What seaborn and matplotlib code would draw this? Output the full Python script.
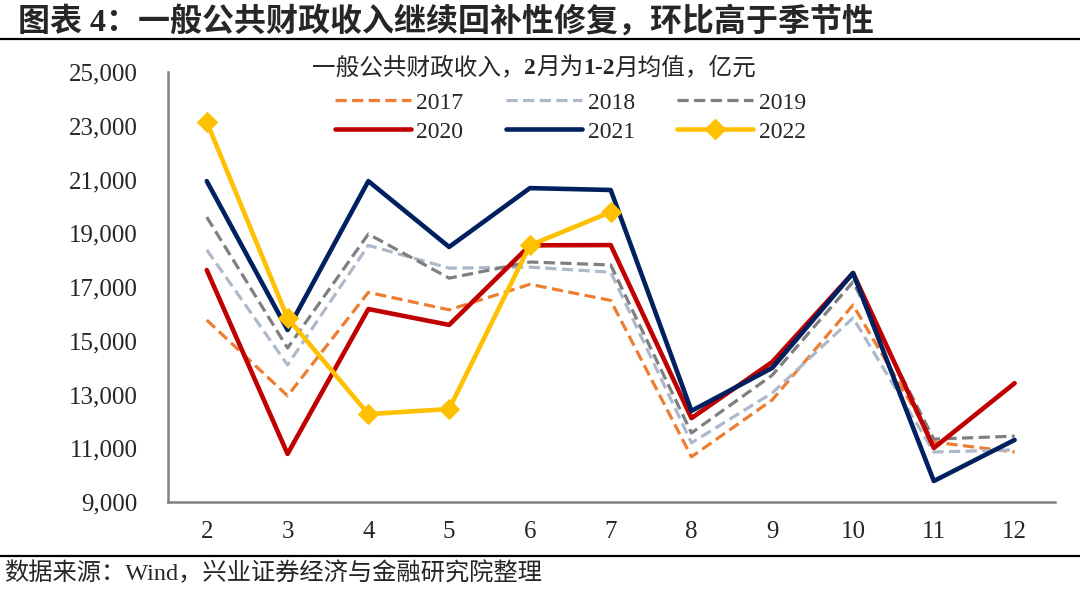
import matplotlib
matplotlib.use('Agg')
import matplotlib.pyplot as plt
import seaborn as sns
import pandas as pd
from matplotlib.lines import Line2D

# 数据（亿元，2月为1-2月均值）
months = ['2', '3', '4', '5', '6', '7', '8', '9', '10', '11', '12']
v2017 = [15770, 12950, 16800, 16150, 17100, 16500, 10680, 12800, 16330, 11230, 10860]
v2018 = [18380, 14100, 18550, 17700, 17740, 17550, 11200, 13060, 15850, 10860, 10940]
v2019 = [19600, 14730, 18970, 17330, 17930, 17820, 11570, 13720, 17190, 11340, 11450]
v2020 = [17630, 10790, 16180, 15590, 18550, 18560, 12120, 14210, 17520, 11010, 13420]
v2021 = [20940, 15400, 20940, 18490, 20680, 20610, 12390, 13990, 17520, 9780, 11310]
v2022 = [23140, 15850, 12270, 12460, 18550, 19790]
years = ['2017', '2018', '2019', '2020', '2021', '2022']
series = [v2017, v2018, v2019, v2020, v2021, v2022]

colors = {'2017': '#ED7D31', '2018': '#ADB9CA', '2019': '#7F7F7F',
          '2020': '#C00000', '2021': '#002060', '2022': '#FFC000'}

rows = []
for y, vals in zip(years, series):
    for i, v in enumerate(vals):
        rows.append({'idx': i, 'value': v, 'year': y})
df = pd.DataFrame(rows)

sns.set_style('white')
plt.rcParams['font.family'] = ['Liberation Serif', 'Noto Sans CJK SC']
plt.rcParams['axes.unicode_minus'] = False

fig = plt.figure(figsize=(10.8, 5.9), dpi=100)
ax = fig.add_axes([168 / 1080, 1 - 502 / 590, (1055 - 168) / 1080, (502 - 72) / 590])

DASH = (0, (3.5, 1.7))

def style(y):
    dashed = y in ('2017', '2018', '2019')
    return dict(color=colors[y], lw=2.3 if dashed else 3.3,
                linestyle=DASH if dashed else '-',
                marker='D' if y == '2022' else None, markersize=10,
                markeredgecolor=colors[y], dash_capstyle='butt',
                solid_capstyle='round')

for y in years:
    d = df[df['year'] == y]
    sns.lineplot(data=d, x='idx', y='value', ax=ax, legend=False, zorder=3, **style(y))

ax.set_xlim(-0.48, 10.5)
ax.set_ylim(9000, 25000)
ax.set_yticks(range(9000, 25001, 2000))
ax.set_yticklabels([f'{v:,}' for v in range(9000, 25001, 2000)], fontsize=18)
ax.set_xticks(range(len(months)))
ax.set_xticklabels(months, fontsize=18)
ax.set_xticks([i - 0.5 for i in range(1, len(months) + 1)], minor=True)
ax.tick_params(axis='x', which='major', length=0, pad=14)
ax.tick_params(axis='x', which='minor', direction='in', length=6, color='#808080', width=1.5)
ax.tick_params(axis='y', which='major', direction='in', length=6, color='#808080', width=1.5, pad=22)
ax.set_xlabel('')
ax.set_ylabel('')
for s in ['top', 'right']:
    ax.spines[s].set_visible(False)
for s in ['left', 'bottom']:
    ax.spines[s].set_color('#808080')
    ax.spines[s].set_linewidth(1.8)
ax.grid(False)

# 图例（按行排列：2017 2018 2019 / 2020 2021 2022）
order = ['2017', '2020', '2018', '2021', '2019', '2022']
handles = [Line2D([], [], **style(y)) for y in order]
ax.legend(handles, order, ncol=3, loc='upper left',
          bbox_to_anchor=(335 / 1080, 1 - 92 / 590), bbox_transform=fig.transFigure,
          frameon=False, fontsize=17, borderpad=0, borderaxespad=0,
          handlelength=3.2, columnspacing=1.8, handletextpad=0.25,
          labelspacing=0.32)

# 图内标题（部分加粗）
parts = [('一般公共财政收入，', 'normal'), ('2', 'bold'), ('月为', 'normal'),
         ('1-2', 'bold'), ('月均值，亿元', 'normal')]
renderer = fig.canvas.get_renderer()
texts = []
for t, w in parts:
    texts.append(fig.text(0, 1 - 68 / 590, t, fontsize=17, fontweight=w, va='center'))
widths = [tx.get_window_extent(renderer).width for tx in texts]
x0 = 534 - sum(widths) / 2
for tx, w in zip(texts, widths):
    tx.set_x(x0 / 1080)
    x0 += w

# 顶部标题和底部来源
fig.text(18 / 1080, 1 - 22 / 590, '图表 4：一般公共财政收入继续回补性修复，环比高于季节性',
         fontsize=23, fontweight='bold', va='center', ha='left')
fig.add_artist(Line2D([0, 1], [1 - 39 / 590, 1 - 39 / 590], color='black', lw=1.6))
fig.add_artist(Line2D([0, 1], [1 - 556 / 590, 1 - 556 / 590], color='black', lw=1.6))
fig.text(4 / 1080, 1 - 573 / 590, '数据来源：Wind，兴业证券经济与金融研究院整理',
         fontsize=17.5, va='center', ha='left')

fig.savefig('out.png', dpi=100)
